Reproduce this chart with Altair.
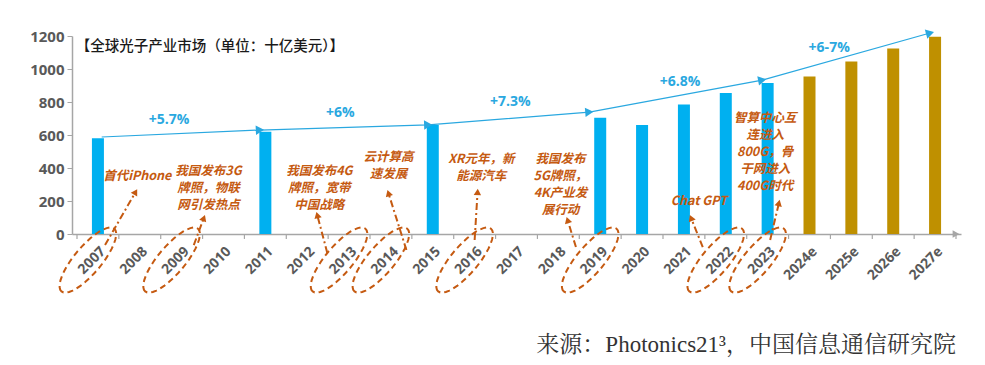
import altair as alt
import pandas as pd
import numpy as np

# ---------------- data ----------------
years = ["2007", "2008", "2009", "2010", "2011", "2012", "2013", "2014", "2015", "2016",
         "2017", "2018", "2019", "2020", "2021", "2022", "2023", "2024e", "2025e", "2026e", "2027e"]
market = [580, None, None, None, 620, None, None, None, 660, None,
          None, None, 705, 660, 785, 855, 915, 955, 1045, 1125, 1195]
kind = ["实际"] * 17 + ["预测"] * 4
y_ticks = [0, 200, 400, 600, 800, 1000, 1200]

# trend arrow line (category index, value)
trend_x = [0.09, 3.87, 7.89, 11.74, 15.87, 19.88]
trend_y = [588, 630, 661, 739, 933, 1218]
growth_x = [1.70, 5.79, 9.85, 13.91, 17.47]
growth_y = [691, 733, 800, 921, 1127]
growth_txt = ["+5.7%", "+6%", "+7.3%", "+6.8%", "+6-7%"]

# event annotations (index, value at top of text)
ann_x = [0.94, 2.64, 5.29, 6.94, 9.16, 11.05, 14.36, 15.94]
ann_y = [388, 418, 418, 503, 491, 491, 236, 739]
ann_txt = ["首代iPhone",
           "我国发布3G\n牌照，物联\n网引发热点",
           "我国发布4G\n牌照，宽带\n中国战略",
           "云计算高\n速发展",
           "XR元年，新\n能源汽车",
           "我国发布\n5G牌照，\n4K产业发\n展行动",
           "Chat GPT",
           "智算中心互\n连进入\n800G，骨\n干网进入\n400G时代"]

# circled years and dashed pointers
circled = [0, 2, 6, 7, 9, 12, 15, 16]
arrow_tail_x = [0.17, 2.29, 5.48, 7.37, 9.00, 11.42, 14.45, 16.06]
arrow_tail_y = [-67, -67, -115, -97, -36, -79, -79, -36]
arrow_head_x = [0.90, 2.53, 5.24, 6.94, 9.07, 11.22, 14.17, 16.27]
arrow_head_y = [255, 97, 115, 248, 255, 85, 97, 188]

title_txt = "【全球光子产业市场（单位：十亿美元）】"
source_txt = "来源：Photonics21³，中国信息通信研究院"

# ---------------- layout / style ----------------
W, H = 889, 198
PX_X = W / 21.0
PX_Y = H / 1200.0
BLUE = "#00B0F0"
GOLD = "#BF9000"
ORANGE = "#C55A11"
GREY = "#595959"
AXIS_GREY = "#A6A6A6"
TREND = "#2AA8E0"
CJK = "Noto Sans CJK SC"

xs = alt.Scale(domain=[-0.5, 20.5], nice=False, zero=False)
ys = alt.Scale(domain=[0, 1200], nice=False)

label_expr = "[" + ",".join("'%s'" % y for y in years) + "][datum.value]"

AX = alt.Axis(values=list(range(21)), labelExpr=label_expr,
              ticks=False, labelAngle=-45, labelFontSize=14,
              labelFontWeight="bold", labelColor=GREY,
              labelFont="Open Sans", labelPadding=10,
              labelOverlap=False,
              domainColor=AXIS_GREY, domainWidth=1.5,
              grid=False, title=None)
AY = alt.Axis(values=y_ticks, tickCount=7,
              format="d", labelOverlap=False,
              labelFontSize=15, labelFontWeight="bold",
              labelColor=GREY, labelFont="Open Sans",
              tickColor=AXIS_GREY, tickSize=5, labelPadding=3,
              domainColor=AXIS_GREY, domainWidth=1.5,
              grid=False, title=None)


def X(field):
    return alt.X(field, scale=xs, axis=AX)


def Y(field):
    return alt.Y(field, scale=ys, axis=AY)


bars_df = pd.DataFrame({"i": range(len(years)), "year": years, "v": market, "kind": kind}).dropna()

bars = alt.Chart(bars_df).mark_bar(size=12).encode(
    x=X("i:Q"), y=Y("v:Q"),
    color=alt.Color("kind:N", scale=alt.Scale(domain=["实际", "预测"], range=[BLUE, GOLD]), legend=None),
)

# x-axis ticks at category boundaries
tick_df = pd.DataFrame({"t": [i - 0.5 for i in range(22)], "y0": 0, "y1": -30})
ticks = alt.Chart(tick_df).mark_rule(color=AXIS_GREY, strokeWidth=1.2).encode(
    x=X("t:Q"), y=Y("y0:Q"), y2="y1:Q")

axis_arrow = alt.Chart(pd.DataFrame({"x": [20.5], "y": [0]})).mark_point(
    shape="triangle-right", filled=True, color=AXIS_GREY, size=60, opacity=1, clip=False
).encode(x=X("x:Q"), y=Y("y:Q"))

# trend line
trend_df = pd.DataFrame({"x": trend_x, "y": trend_y})
trend = alt.Chart(trend_df).mark_line(color=TREND, strokeWidth=1.2, clip=False).encode(
    x=X("x:Q"), y=Y("y:Q"))

angles = []
for k in range(1, len(trend_x)):
    dx = (trend_x[k] - trend_x[k - 1]) * PX_X
    dy = (trend_y[k] - trend_y[k - 1]) * PX_Y
    angles.append((360 - np.degrees(np.arctan2(dy, dx))) % 360)
heads_df = pd.DataFrame({"x": trend_x[1:], "y": trend_y[1:], "a": angles})
heads = alt.Chart(heads_df).mark_point(shape="triangle-right", filled=True, color=TREND,
                                      size=90, opacity=1, clip=False).encode(
    x=X("x:Q"), y=Y("y:Q"), angle=alt.Angle("a:Q", scale=None))

growth_df = pd.DataFrame({"x": growth_x, "y": growth_y, "t": growth_txt})
growth = alt.Chart(growth_df).mark_text(color=TREND, fontSize=14, fontWeight="bold",
                                        font="Open Sans", clip=False).encode(
    x=X("x:Q"), y=Y("y:Q"), text="t:N")

ann_df = pd.DataFrame({"x": ann_x, "y": ann_y, "t": ann_txt})
ann = alt.Chart(ann_df).mark_text(color=ORANGE, fontSize=12.5, fontWeight="bold", fontStyle="italic",
                                  font=CJK, lineBreak="\n", lineHeight=17, baseline="top",
                                  align="center", clip=False).encode(
    x=X("x:Q"), y=Y("y:Q"), text="t:N")

# dashed ellipses around years
th = np.linspace(0, 2 * np.pi, 41)[:-1]
ell_path = "M " + " L ".join("%.3f %.3f" % (np.cos(t), 0.33 * np.sin(t)) for t in th) + " Z"
ell_df = pd.DataFrame({"x": [i - 0.24 for i in circled], "y": -158})
ellipses = alt.Chart(ell_df).mark_point(shape=ell_path, filled=False, color=ORANGE, size=6724,
                                        angle=130, strokeWidth=2, strokeDash=[6, 4], opacity=1,
                                        clip=False).encode(
    x=X("x:Q"), y=Y("y:Q"))

arr_df = pd.DataFrame({"x": arrow_tail_x, "y": arrow_tail_y, "x2": arrow_head_x, "y2": arrow_head_y})
arr_lines = alt.Chart(arr_df).mark_rule(color=ORANGE, strokeWidth=2, strokeDash=[7, 3, 2, 3],
                                        clip=False).encode(
    x=X("x:Q"), y=Y("y:Q"), x2="x2:Q", y2="y2:Q")
arr_ang = []
for a in range(len(arrow_head_x)):
    dx = (arrow_head_x[a] - arrow_tail_x[a]) * PX_X
    dy = (arrow_head_y[a] - arrow_tail_y[a]) * PX_Y
    arr_ang.append((360 - np.degrees(np.arctan2(dy, dx))) % 360)
arr_df["a"] = arr_ang
arr_heads = alt.Chart(arr_df).mark_point(shape="triangle-right", filled=True, color=ORANGE, size=55,
                                         opacity=1, clip=False).encode(
    x=X("x2:Q"), y=Y("y2:Q"), angle=alt.Angle("a:Q", scale=None))

title = alt.Chart(pd.DataFrame({"x": [-0.53], "y": [1133], "t": [title_txt]})).mark_text(
    align="left", baseline="middle", fontSize=14.5, font=CJK, fontWeight=500, color="#1A1A1A",
    clip=False).encode(x=X("x:Q"), y=Y("y:Q"), text="t:N")

source = alt.Chart(pd.DataFrame({"x": [20.5], "y": [-715], "t": [source_txt]})).mark_text(
    align="right", baseline="alphabetic", fontSize=23, font="Liberation Serif, Noto Serif CJK SC, " + CJK,
    color="#333333", clip=False).encode(x=X("x:Q"), y=Y("y:Q"), text="t:N")

chart = alt.layer(bars, ticks, axis_arrow, trend, heads, growth, ellipses, arr_lines, arr_heads,
                  ann, title, source).properties(
    width=W, height=H,
    autosize=alt.AutoSizeParams(type="none"),
    padding={"left": 64, "top": 28, "right": 14, "bottom": 128},
    background="white",
).configure_view(stroke=None)

chart.save("out.html", embed_options={"renderer": "svg", "actions": False})
